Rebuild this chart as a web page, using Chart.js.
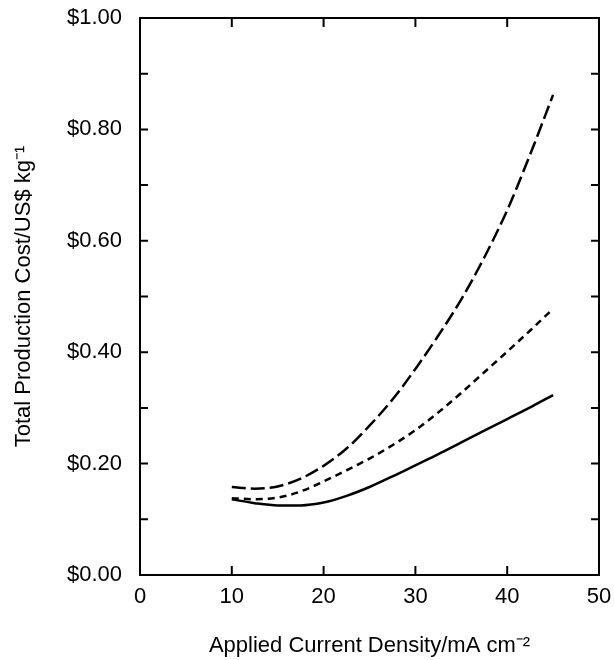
<!DOCTYPE html>
<html>
<head>
<meta charset="utf-8">
<script src="https://cdn.jsdelivr.net/npm/chart.js@4.4.0/dist/chart.umd.min.js"></script>
<style>
  html, body { margin: 0; padding: 0; background: #fff; }
  #wrap { width: 614px; height: 660px; }
</style>
</head>
<body>
<div id="wrap"><canvas id="costChart" width="614" height="660"></canvas></div>
<script>
// current density, mA cm-2
var density = [10, 12.5, 15, 17.5, 20, 22.5, 25, 27.5, 30, 32.5, 35, 37.5, 40, 42.5, 45];
// total production cost, US$ per kg
var costSolid = [0.136, 0.129, 0.125, 0.125, 0.130, 0.142, 0.158, 0.177, 0.197, 0.217, 0.238, 0.259, 0.280, 0.301, 0.323];
var costShortDash = [0.138, 0.136, 0.139, 0.150, 0.168, 0.188, 0.209, 0.233, 0.260, 0.292, 0.327, 0.364, 0.401, 0.439, 0.478];
var costLongDash = [0.158, 0.155, 0.159, 0.173, 0.196, 0.227, 0.268, 0.315, 0.370, 0.430, 0.495, 0.570, 0.655, 0.755, 0.862];
var xTicks = [0, 10, 20, 30, 40, 50];

function pts(ys) {
    return density.map(function (x, i) { return { x: x, y: ys[i] }; });
}

var font = { family: "'Liberation Sans', Arial, sans-serif", size: 22 };

// frame with inward ticks on all four sides
var frame = {
    id: 'frame',
    afterDraw: function (chart) {
        var c = chart.ctx, a = chart.chartArea;
        var xs = chart.scales.x, ys = chart.scales.y;
        c.save();
        c.strokeStyle = '#000';
        c.lineWidth = 2;
        c.strokeRect(a.left, a.top, a.right - a.left, a.bottom - a.top);
        c.beginPath();
        xs.ticks.forEach(function (t) {
            if (t.value <= xs.min || t.value >= xs.max) return;
            var px = xs.getPixelForValue(t.value);
            c.moveTo(px, a.bottom); c.lineTo(px, a.bottom - 9);
            c.moveTo(px, a.top); c.lineTo(px, a.top + 9);
        });
        ys.ticks.forEach(function (t) {
            if (t.value <= ys.min + 1e-6 || t.value >= ys.max - 1e-6) return;
            var py = ys.getPixelForValue(t.value);
            c.moveTo(a.left, py); c.lineTo(a.left + 8, py);
            c.moveTo(a.right, py); c.lineTo(a.right - 8, py);
        });
        c.stroke();
        c.restore();
    }
};

var ctx = document.getElementById('costChart').getContext('2d');
var chart = new Chart(ctx, {
    type: 'line',
    data: {
        datasets: [{
            label: 'solid',
            data: pts(costSolid),
            borderColor: '#000',
            borderWidth: 2.5,
            pointRadius: 0,
            cubicInterpolationMode: 'monotone'
        }, {
            label: 'short dash',
            data: pts(costShortDash),
            borderColor: '#000',
            borderWidth: 2.5,
            borderDash: [7, 5],
            pointRadius: 0,
            cubicInterpolationMode: 'monotone'
        }, {
            label: 'long dash',
            data: pts(costLongDash),
            borderColor: '#000',
            borderWidth: 2.5,
            borderDash: [14, 5],
            pointRadius: 0,
            cubicInterpolationMode: 'monotone'
        }]
    },
    options: {
        responsive: false,
        animation: false,
        layout: { padding: { top: 18, right: 15, left: 0, bottom: 0 } },
        plugins: { legend: { display: false }, tooltip: { enabled: false } },
        scales: {
            x: {
                type: 'linear',
                min: 0,
                max: 50,
                afterBuildTicks: function (s) {
                    s.ticks = xTicks.map(function (v) { return { value: v }; });
                },
                grid: { display: false, drawTicks: false },
                border: { display: false },
                ticks: { color: '#000', font: font, padding: 9, maxRotation: 0 },
                title: {
                    display: true,
                    text: 'Applied Current Density/mA cm\u207B\u00B2',
                    color: '#000',
                    font: font,
                    padding: { top: 0, bottom: 1 }
                },
                afterFit: function (s) {
                    s.height = 85;
                    s.paddingLeft = 0;
                    s.paddingRight = 0;
                }
            },
            y: {
                min: 0,
                max: 1,
                grid: { display: false, drawTicks: false },
                border: { display: false },
                ticks: {
                    stepSize: 0.1,
                    autoSkip: false,
                    color: '#000',
                    font: font,
                    padding: 18,
                    callback: function (v) {
                        return Math.round(v * 10) % 2 === 0 ? '$' + v.toFixed(2) : '';
                    }
                },
                title: {
                    display: true,
                    text: 'Total Production Cost/US$ kg\u207B\u00B9',
                    color: '#000',
                    font: font,
                    padding: { top: 11, bottom: 0 }
                },
                afterFit: function (s) {
                    s.width = 140;
                    s.paddingTop = 0;
                    s.paddingBottom = 0;
                }
            }
        }
    },
    plugins: [frame]
});
</script>
</body>
</html>
